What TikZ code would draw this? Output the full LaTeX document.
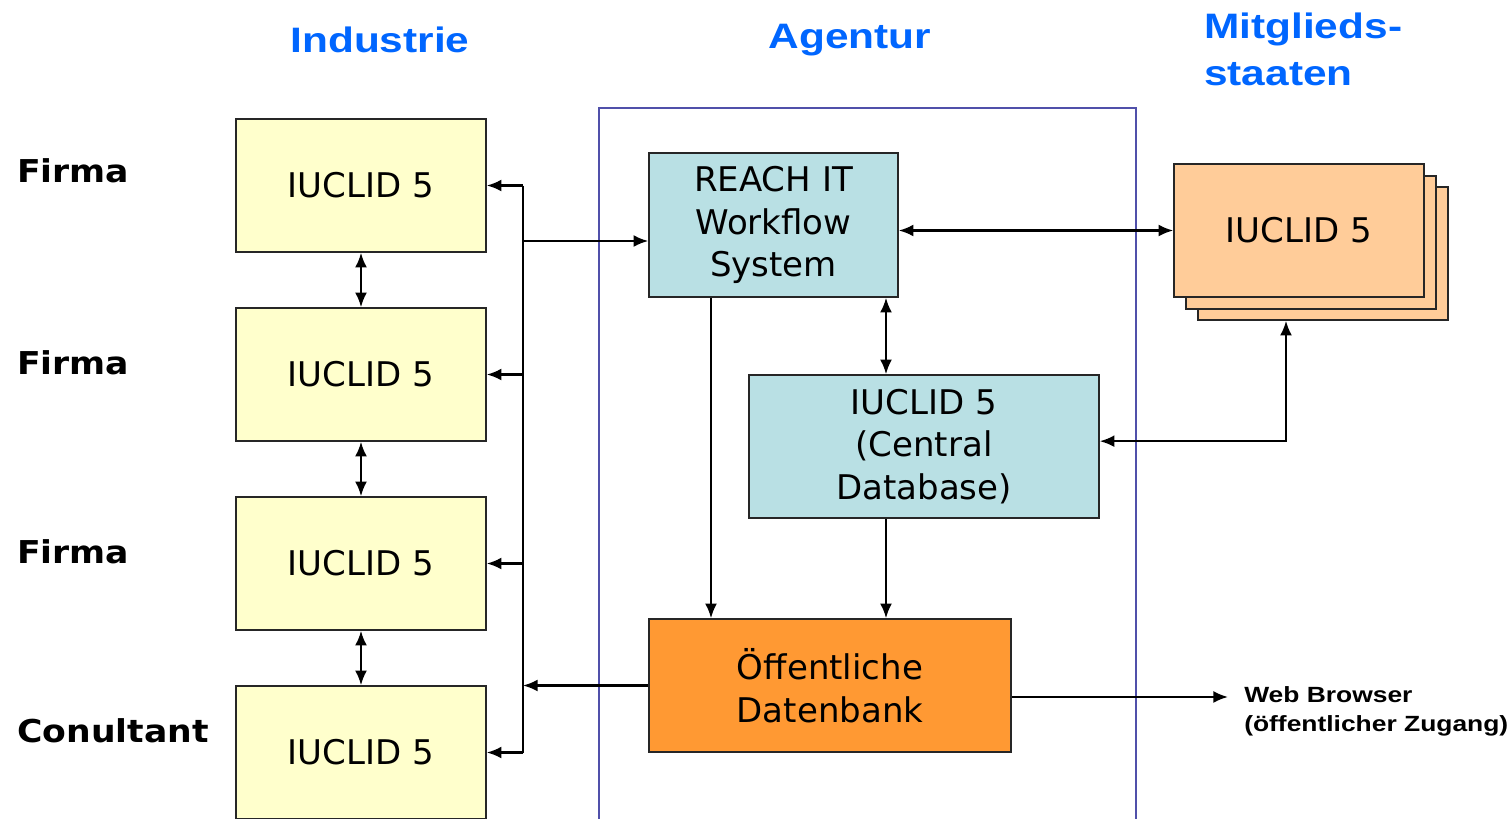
\documentclass[tikz,border=0pt]{standalone}
\usepackage{fontspec}
\usetikzlibrary{arrows.meta}
\newfontfamily\headfont{Liberation Sans}[FakeStretch=1.2]
\newfontfamily\labfont{DejaVu Sans}[FakeStretch=1.1]
\newfontfamily\boxfont{DejaVu Sans}
\definecolor{yel}{RGB}{255,255,204}
\definecolor{lblue}{RGB}{185,224,228}
\definecolor{orng}{RGB}{255,153,51}
\definecolor{peach}{RGB}{255,204,153}
\definecolor{frameblue}{RGB}{80,80,170}
\definecolor{headblue}{RGB}{0,102,255}
\tikzset{
  box/.style={draw=black!85, line width=1.2pt, rectangle, inner sep=0pt, align=center,
    font={\boxfont\fontsize{25.5pt}{32pt}\selectfont}},
  indbox/.style={box, fill=yel, minimum width=187.5pt, minimum height=99.75pt},
  memberbox/.style={box, fill=peach, minimum width=187.5pt, minimum height=99.75pt},
  conn/.style={line width=1.6pt, black},
  arr/.style={conn, -{Latex[length=11pt,width=9pt]}},
  darr/.style={conn, {Latex[length=11pt,width=9pt]}-{Latex[length=11pt,width=9pt]}},
  head/.style={inner sep=0pt, text=headblue, font={\headfont\bfseries\fontsize{26.5pt}{35pt}\selectfont}},
  lab/.style={inner sep=0pt, anchor=west, font={\labfont\bfseries\fontsize{23.6pt}{28pt}\selectfont}},
}
\begin{document}
\begin{tikzpicture}[x=0.75pt, y=-0.75pt]
\useasboundingbox (0,0) rectangle (1510,818);
\clip (0,0) rectangle (1510,818);
\fill[white] (0,0) rectangle (1510,818);

% Headings
\node[head] (hind) at (380,40) {Industrie};
\node[head] (hag) at (850,40) {Agentur};
\node[head, anchor=west, align=left] (hms) at (1204,49.5) {Mitglieds-\\staaten};

% Left labels
\node[lab] (f1) at (17,171) {Firma};
\node[lab] (f2) at (17,363) {Firma};
\node[lab] (f3) at (17,552) {Firma};
\node[lab] (f4) at (17,731) {Conultant};

% Agentur frame
\draw[frameblue, line width=1.1pt] (599,830) -- (599,108) -- (1136,108) -- (1136,830);

% Industrie boxes
\node[indbox] (i1) at (361,185.5) {IUCLID 5};
\node[indbox] (i2) at (361,374.5) {IUCLID 5};
\node[indbox] (i3) at (361,563.5) {IUCLID 5};
\node[indbox] (i4) at (361,752.5) {IUCLID 5};

% Agentur boxes
\node[box, fill=lblue, minimum width=186.75pt, minimum height=108pt] (reach) at (773.5,225) {\raisebox{-2pt}{\parbox{180pt}{\centering REACH IT\\Workflow\\System}}};
\node[box, fill=lblue, minimum width=262.5pt, minimum height=107.25pt] (central) at (924,446.5) {\raisebox{-2pt}{\parbox{250pt}{\centering IUCLID 5\\(Central\\Database)}}};
\node[box, fill=orng, minimum width=271.5pt, minimum height=99.75pt] (off) at (830,685.5) {Öffentliche\\Datenbank};

% Member states stack
\node[memberbox] (m3) at (1323,253.5) {};
\node[memberbox] (m2) at (1311,242.5) {};
\node[memberbox] (m1) at (1299,230.5) {IUCLID 5};

% Web browser
\node[inner sep=0pt, inner xsep=12pt, anchor=west, align=left,
  font={\headfont\bfseries\fontsize{16.5pt}{21.75pt}\selectfont}] (web) at (1228,711.5)
  {Web Browser\\(öffentlicher Zugang)};

% helper coordinates
\coordinate (bus) at (523,0);
\coordinate (vx) at (886,0);
\coordinate (vy) at (711,0);
\coordinate (vz) at (1286,0);

% Industrie connections
\draw[darr] (i1) -- (i2);
\draw[darr] (i2) -- (i3);
\draw[darr] (i3) -- (i4);
\draw[conn] (i1.east -| bus) -- (i4.east -| bus);
\draw[arr] (i1.east -| bus) -- (i1.east);
\draw[arr] (i2.east -| bus) -- (i2.east);
\draw[arr] (i3.east -| bus) -- (i3.east);
\draw[arr] (i4.east -| bus) -- (i4.east);
\draw[arr] ([yshift=-12pt]reach.west -| bus) -- ([yshift=-12pt]reach.west);
\draw[arr] (off.west) -- (off.west -| bus);

% Agentur connections
\draw[darr] (m1.west -| reach.east) -- (m1.west);
\draw[darr] (reach.south -| vx) -- (central.north -| vx);
\draw[arr] (central.south -| vx) -- (off.north -| vx);
\draw[arr] (reach.south -| vy) -- (off.north -| vy);
\draw[darr] ([yshift=4pt]central.east) -| (m3.south -| vz);
\draw[arr] ([yshift=-8.6pt]off.east) -- ([yshift=-8.6pt]off.east -| web.west);
\end{tikzpicture}
\end{document}
